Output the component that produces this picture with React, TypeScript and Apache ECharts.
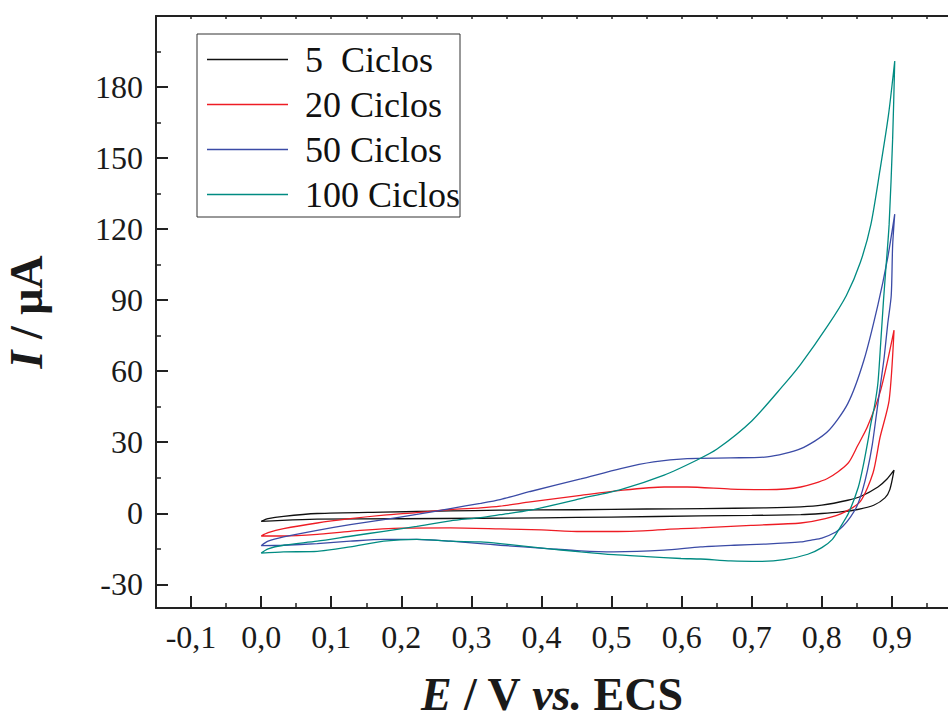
import React, { useEffect, useRef } from "react";
import * as echarts from "echarts";

// Cyclic voltammograms: [E (V vs. ECS), I (µA)], forward sweep 0.0 → 0.9 V then back to 0.0 V
const CV_5_CYCLES: [number, number][] = [
  [0.0, -3.4], [0.01, -2.3], [0.032, -1.3], [0.08, -0.1], [0.174, 0.5], [0.27, 1.0], [0.34, 1.3],
  [0.45, 1.5], [0.55, 1.8], [0.63, 2.0], [0.72, 2.3], [0.77, 2.7], [0.8, 3.4], [0.837, 5.5],
  [0.856, 7.2], [0.88, 11.1], [0.893, 14.5], [0.903, 18.2],
  [0.897, 10.0], [0.89, 6.5], [0.874, 3.4], [0.851, 1.6], [0.827, 0.6], [0.8, -0.1], [0.77, -0.6],
  [0.7, -0.9], [0.627, -1.1], [0.5, -1.6], [0.4, -1.9], [0.313, -2.1], [0.2, -2.3], [0.08, -2.5],
  [0.03, -3.0], [0.0, -3.4],
];

const CV_20_CYCLES: [number, number][] = [
  [0.0, -9.6], [0.01, -8.2], [0.032, -6.5], [0.08, -4.1], [0.127, -2.3], [0.175, -0.8], [0.222, 0.3],
  [0.27, 1.6], [0.313, 2.3], [0.341, 3.0], [0.384, 4.8], [0.456, 7.6], [0.513, 9.7], [0.575, 11.1],
  [0.608, 11.1], [0.67, 10.2], [0.722, 10.0], [0.77, 11.1], [0.808, 14.7], [0.837, 21.0],
  [0.851, 28.5], [0.865, 36.5], [0.884, 52.0], [0.903, 77.3],
  [0.896, 47.7], [0.883, 32.0], [0.873, 17.0], [0.855, 5.0], [0.833, 0.6], [0.805, -2.3],
  [0.77, -4.1], [0.699, -5.1], [0.627, -6.2], [0.599, -6.5], [0.527, -7.6], [0.456, -7.7],
  [0.4, -7.0], [0.341, -6.6], [0.27, -6.2], [0.2, -6.3], [0.127, -7.6], [0.08, -8.9],
  [0.032, -9.6], [0.0, -9.6],
];

const CV_50_CYCLES: [number, number][] = [
  [0.0, -13.7], [0.01, -11.8], [0.032, -10.0], [0.08, -7.2], [0.127, -4.8], [0.175, -2.7],
  [0.222, -0.5], [0.27, 2.0], [0.313, 4.2], [0.341, 5.8], [0.384, 9.2], [0.456, 14.5],
  [0.513, 18.9], [0.56, 21.7], [0.608, 23.1], [0.67, 23.4], [0.722, 23.8], [0.77, 27.3],
  [0.808, 34.4], [0.837, 46.3], [0.86, 64.6], [0.88, 88.0], [0.894, 108.0], [0.904, 126.3],
  [0.901, 113.0], [0.899, 92.0], [0.894, 80.0], [0.889, 66.0], [0.884, 55.0], [0.878, 42.0],
  [0.872, 29.0], [0.865, 18.0], [0.858, 9.7], [0.85, 3.0], [0.841, -1.5], [0.83, -5.5],
  [0.82, -7.9], [0.8, -10.5], [0.785, -11.3], [0.77, -12.1], [0.72, -13.0], [0.675, -13.5],
  [0.627, -14.2], [0.575, -15.6], [0.503, -16.3], [0.456, -15.9], [0.408, -14.9], [0.341, -13.5],
  [0.313, -12.8], [0.27, -11.8], [0.222, -11.0], [0.175, -11.0], [0.127, -11.8], [0.08, -12.8],
  [0.032, -13.5], [0.0, -13.7],
];

const CV_100_CYCLES: [number, number][] = [
  [0.0, -16.8], [0.01, -15.0], [0.032, -13.5], [0.08, -11.8], [0.127, -9.7], [0.175, -7.6],
  [0.222, -5.5], [0.27, -3.2], [0.313, -1.8], [0.341, -0.6], [0.384, 1.3], [0.456, 6.2],
  [0.513, 10.0], [0.575, 16.1], [0.622, 22.5], [0.65, 27.0], [0.7, 39.0], [0.745, 54.0],
  [0.77, 63.0], [0.808, 79.0], [0.835, 92.0], [0.855, 106.0], [0.87, 122.0], [0.883, 145.0],
  [0.895, 168.0], [0.904, 191.0],
  [0.901, 158.0], [0.896, 122.0], [0.891, 102.0], [0.888, 90.0], [0.884, 72.0], [0.88, 55.0],
  [0.875, 45.0], [0.87, 38.0], [0.866, 31.0], [0.859, 20.0], [0.852, 11.0], [0.838, 0.0],
  [0.826, -6.0], [0.815, -11.0], [0.8, -14.5], [0.78, -17.3], [0.746, -19.6], [0.713, -20.3],
  [0.67, -20.1], [0.627, -19.3], [0.599, -19.1], [0.55, -18.3], [0.503, -17.5], [0.456, -16.3],
  [0.408, -14.9], [0.341, -12.8], [0.313, -12.1], [0.27, -11.8], [0.222, -11.0], [0.175, -11.8],
  [0.127, -14.2], [0.08, -16.1], [0.032, -16.3], [0.0, -16.8],
];

const SERIES_NAMES = ["5  Ciclos", "20 Ciclos", "50 Ciclos", "100 Ciclos"];
const SERIES_COLORS = ["#111111", "#ee1c24", "#3b4ba6", "#008b82"];

// Axis ticks
const X_MAJOR = [-0.1, 0, 0.1, 0.2, 0.3, 0.4, 0.5, 0.6, 0.7, 0.8, 0.9];
const X_MINOR = [-0.05, 0.05, 0.15, 0.25, 0.35, 0.45, 0.55, 0.65, 0.75, 0.85, 0.95];
const Y_MAJOR = [-30, 0, 30, 60, 90, 120, 150, 180];
const Y_MINOR = [-15, 15, 45, 75, 105, 135, 165, 195];

const FONT = "'Liberation Serif', 'Times New Roman', serif";
const AXIS_COLOR = "#222222";

export default function App() {
  const ref = useRef<HTMLDivElement>(null);

  useEffect(() => {
    if (!ref.current) return;
    const chart = echarts.init(ref.current, null, { renderer: "svg" });

    const xRange = { min: -0.15, max: 0.98 };
    const yRange = { min: -40, max: 210 };
    const lineCommon = { color: AXIS_COLOR, width: 2 };

    const datasets = [CV_5_CYCLES, CV_20_CYCLES, CV_50_CYCLES, CV_100_CYCLES];

    const titleStyle = {
      fontFamily: FONT,
      fontSize: 46,
      lineHeight: 40,
      fontWeight: "bold",
      color: "#1a1a1a",
      rich: {
        i: {
          fontFamily: FONT,
          fontSize: 46,
          lineHeight: 40,
          fontWeight: "bold",
          fontStyle: "italic",
          color: "#1a1a1a",
        },
      },
    };

    chart.setOption({
      animation: false,
      backgroundColor: "#ffffff",
      grid: {
        left: 156,
        top: 16,
        right: 0,
        bottom: 110,
        containLabel: false,
        outerBoundsMode: "none",
      },
      legend: {
        orient: "vertical",
        left: 197,
        top: 34,
        padding: [3, 0, 0, 10],
        itemGap: 0,
        itemWidth: 81,
        itemHeight: 1.4,
        icon: "rect",
        borderColor: "#333333",
        borderWidth: 1,
        backgroundColor: "#ffffff",
        data: SERIES_NAMES,
        textStyle: {
          fontFamily: FONT,
          fontSize: 36,
          lineHeight: 45,
          color: "#111111",
          padding: [0, 0, 0, 12],
        },
      },
      xAxis: [
        {
          type: "value",
          position: "bottom",
          ...xRange,
          axisLine: { show: true, onZero: false, lineStyle: lineCommon },
          axisTick: { show: true, inside: true, length: 12, customValues: X_MAJOR, lineStyle: lineCommon },
          axisLabel: {
            customValues: X_MAJOR,
            margin: 13,
            fontFamily: FONT,
            fontSize: 32,
            color: "#1a1a1a",
            formatter: (v: number) => v.toFixed(1).replace(".", ","),
          },
          splitLine: { show: false },
          name: "{i|E} / V {i|vs.} ECS",
          nameLocation: "middle",
          nameGap: 66,
          nameTextStyle: titleStyle,
        },
        {
          type: "value",
          position: "bottom",
          ...xRange,
          axisLine: { show: false, onZero: false },
          axisTick: { show: true, inside: true, length: 5, customValues: X_MINOR, lineStyle: { color: AXIS_COLOR, width: 1.5 } },
          axisLabel: { show: false },
          splitLine: { show: false },
        },
        {
          type: "value",
          position: "top",
          ...xRange,
          axisLine: { show: true, onZero: false, lineStyle: lineCommon },
          axisTick: { show: true, inside: true, length: 3, customValues: [...X_MAJOR, ...X_MINOR], lineStyle: { color: AXIS_COLOR, width: 1.5 } },
          axisLabel: { show: false },
          splitLine: { show: false },
        },
      ],
      yAxis: [
        {
          type: "value",
          position: "left",
          ...yRange,
          axisLine: { show: true, onZero: false, lineStyle: lineCommon },
          axisTick: { show: true, inside: true, length: 12, customValues: Y_MAJOR, lineStyle: lineCommon },
          axisLabel: { customValues: Y_MAJOR, margin: 13, fontFamily: FONT, fontSize: 32, color: "#1a1a1a" },
          splitLine: { show: false },
          name: "{i|I} / μA",
          nameLocation: "middle",
          nameGap: 110,
          nameTextStyle: titleStyle,
        },
        {
          type: "value",
          position: "left",
          ...yRange,
          axisLine: { show: false, onZero: false },
          axisTick: { show: true, inside: true, length: 5, customValues: Y_MINOR, lineStyle: { color: AXIS_COLOR, width: 1.5 } },
          axisLabel: { show: false },
          splitLine: { show: false },
        },
      ],
      series: datasets.map((data, i) => ({
        name: SERIES_NAMES[i],
        type: "line",
        xAxisIndex: 0,
        yAxisIndex: 0,
        data,
        symbol: "none",
        smooth: 0.25,
        lineStyle: { color: SERIES_COLORS[i], width: 1.3 },
        itemStyle: { color: SERIES_COLORS[i] },
        clip: true,
      })),
    });

    return () => chart.dispose();
  }, []);

  return (
    <div
      ref={ref}
      style={{ position: "fixed", left: 0, top: 0, width: 948, height: 718, background: "#fff" }}
    />
  );
}
